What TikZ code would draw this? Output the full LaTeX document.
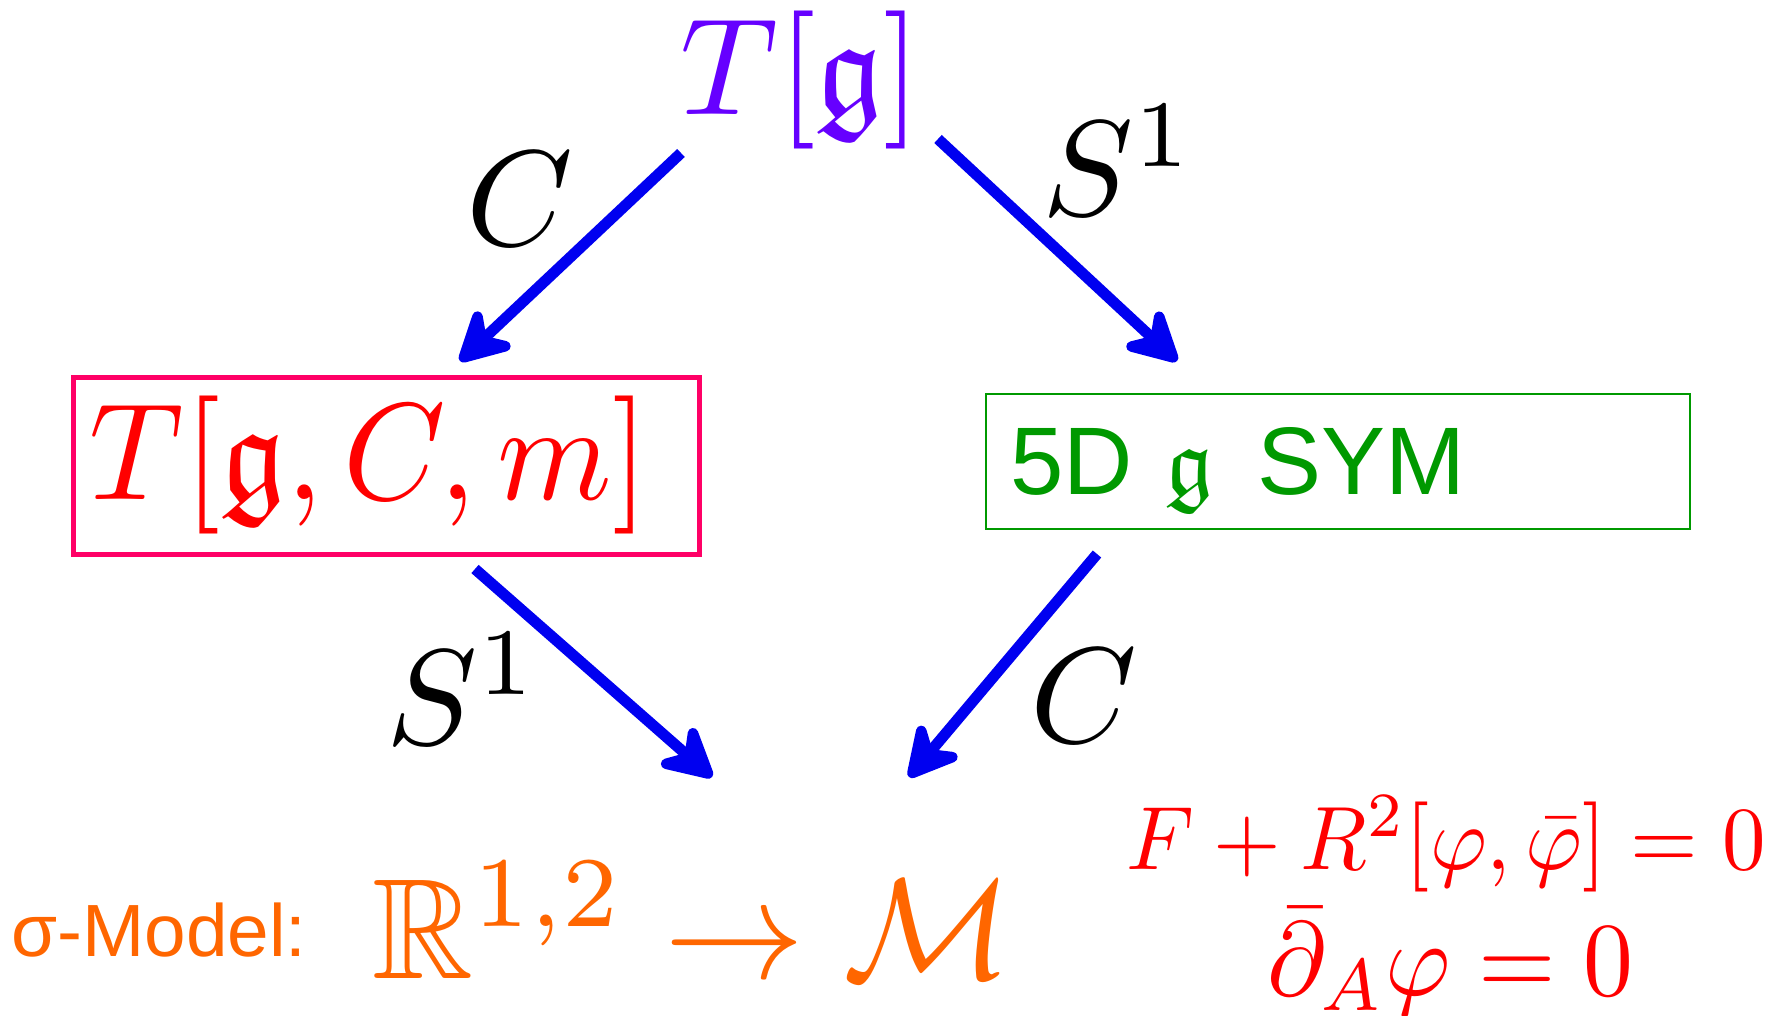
\documentclass[tikz,border=0pt]{standalone}
\usepackage{amssymb}
\usepackage{graphicx}
\usepackage{fontspec}
\newfontfamily\sansarial{Liberation Sans}
\usetikzlibrary{arrows.meta}
\definecolor{topviolet}{RGB}{102,0,255}
\definecolor{arrblue}{RGB}{0,0,240}
\definecolor{boxpink}{RGB}{255,0,102}
\definecolor{symgreen}{RGB}{0,153,0}
\definecolor{sigorange}{RGB}{255,102,0}
\definecolor{eqred}{RGB}{255,0,0}
% scale 10pt material to a given size (in pt), with a horizontal ratio
\newcommand{\sized}[3]{\scalebox{\fpeval{#1*#2/10}}[\fpeval{#1/10}]{#3}}
\begin{document}
\begin{tikzpicture}[x=1pt,y=-1pt,
  arr/.style={draw=arrblue, line width=11pt,
    -{Stealth[length=64pt,width=68pt,inset=22pt,round]}},
  txt/.style={inner sep=0pt, anchor=base, font=\fontsize{10}{12}\selectfont},
]
\fill[white] (0,0) rectangle (1781,1016);
\useasboundingbox (0,0) rectangle (1781,1016);

% top node
\node[txt, text=topviolet] (top) at (801,115) {\sized{138}{0.98}{$T[\mathfrak{g}]$}};

% left box
\node[draw=boxpink, line width=5pt, inner sep=0pt, minimum width=626pt, minimum height=177pt] (lbox) at (386,465.5) {};
\node[txt, text=eqred] (ltext) at (369,499) {\sized{138}{0.946}{$T[\mathfrak{g},C,m]$}};

% right box
\node[draw=symgreen, line width=2.3pt, inner sep=0pt, minimum width=704pt, minimum height=135pt] (rbox) at (1338,461.5) {};
\node[txt, text=symgreen] (rtext) at (1238,494) {\sized{96}{1}{\sansarial 5D\hspace{3.4pt}$\mathfrak{g}$\hspace{4.6pt}SYM}};

% arrow end points
\coordinate (a1s) at (681,153);
\coordinate (a1e) at (460,361);
\coordinate (a2s) at (938,139);
\coordinate (a2e) at (1177,361);
\coordinate (a3s) at (475,569);
\coordinate (a3e) at (712,777);
\coordinate (a4s) at (1097,554);
\coordinate (a4e) at (909,777);
\draw[arr] (a1s) -- (a1e);
\draw[arr] (a2s) -- (a2e);
\draw[arr] (a3s) -- (a3e);
\draw[arr] (a4s) -- (a4e);

% labels
\node[txt] (lC1) at (520,246) {\sized{136}{1}{$C$}};
\node[txt] (lS1) at (1119,216) {\sized{136}{1}{$S^1$}};
\node[txt] (lS2) at (463,744) {\sized{136}{1}{$S^1$}};
\node[txt] (lC2) at (1084,742) {\sized{136}{1}{$C$}};

% bottom
\node[txt, anchor=base west, text=sigorange] (sigma) at (11,956) {\sized{74}{1.01}{\sansarial σ-Model:}};
\node[txt, anchor=base west, text=sigorange] (map) at (372,978) {\sized{143}{0.98}{$\mathbb{R}^{1,2}\to\mathcal{M}$}};

\node[txt, text=eqred] (eq1) at (1446,869) {\sized{90}{0.965}{$F+R^2[\varphi,\bar\varphi]=0$}};
\node[txt, text=eqred] (eq2) at (1450.5,995) {\sized{105}{0.95}{$\bar\partial_A\varphi=0$}};
\end{tikzpicture}
\end{document}
